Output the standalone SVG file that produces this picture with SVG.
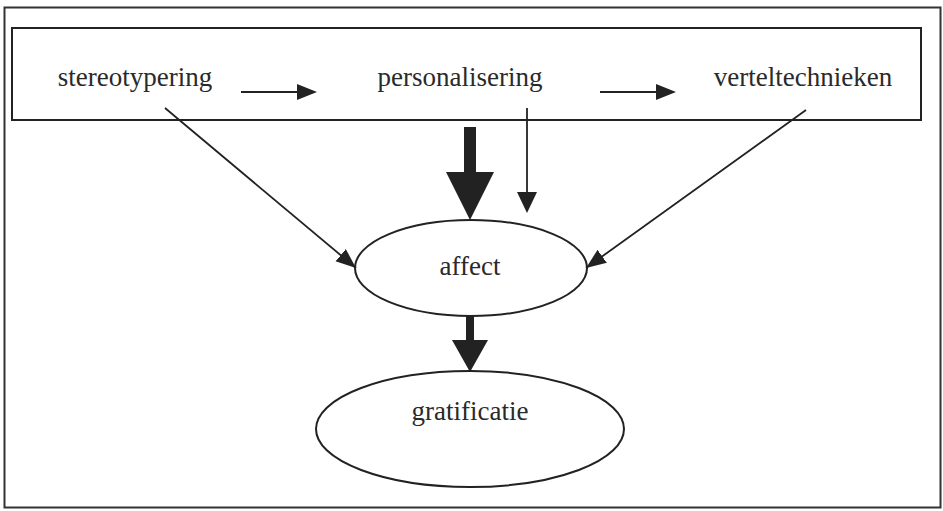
<svg xmlns="http://www.w3.org/2000/svg" width="943" height="511" viewBox="0 0 943 511">
<defs>
<style>
.t{font-family:"Liberation Serif","Times New Roman",serif;font-size:27px;fill:#2a2a2a;text-anchor:middle}
.ln{stroke:#222;stroke-width:1.8;fill:none}
.sh{fill:#fff;stroke:#222;stroke-width:2}
.ah{fill:#222;stroke:none}
</style>
<marker id="arr" markerWidth="22" markerHeight="18" refX="20" refY="8" orient="auto" markerUnits="userSpaceOnUse">
<path d="M0,0 L20,8 L0,16 Z" class="ah"/>
</marker>
</defs>
<rect width="943" height="511" fill="#fff"/>
<rect x="4.5" y="7.5" width="936" height="500" fill="none" stroke="#333" stroke-width="2"/>
<g id="top-box">
<rect x="12" y="28" width="909" height="92" class="sh"/>
</g>
<g id="stereotypering"><text class="t" x="135" y="86">stereotypering</text></g>
<g id="personalisering"><text class="t" x="460" y="86">personalisering</text></g>
<g id="verteltechnieken"><text class="t" x="803" y="86">verteltechnieken</text></g>
<g id="affect">
<ellipse cx="471" cy="268" rx="116" ry="48" class="sh"/>
<text class="t" x="470" y="275">affect</text>
</g>
<g id="gratificatie">
<ellipse cx="470" cy="429" rx="154" ry="58" class="sh"/>
<text class="t" x="470" y="420">gratificatie</text>
</g>
<g id="connectors">
<line x1="241" y1="92" x2="299" y2="92" class="ln" stroke-width="2.5"/>
<polygon points="297,84 317,92 297,100" class="ah"/>
<line x1="600" y1="92" x2="658" y2="92" class="ln" stroke-width="2.5"/>
<polygon points="656,84 676,92 656,100" class="ah"/>
<polygon points="464,127 476,127 476,172 494,172 470,220 446,172 464,172" class="ah"/>
<line x1="527" y1="108" x2="527" y2="195" class="ln"/>
<polygon points="517,192 537,192 527,213" class="ah"/>
<line x1="165" y1="108" x2="356" y2="268" class="ln" marker-end="url(#arr)"/>
<line x1="806" y1="110" x2="586" y2="268" class="ln" marker-end="url(#arr)"/>
<polygon points="466,316 474,316 474,340 488,340 470,372 452,340 466,340" class="ah"/>
</g>
</svg>
